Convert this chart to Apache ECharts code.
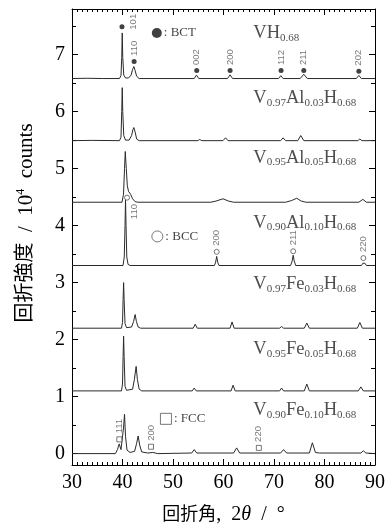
<!DOCTYPE html>
<html><head><meta charset="utf-8">
<script src="https://cdn.jsdelivr.net/npm/echarts@6/dist/echarts.min.js"></script>
<style>html,body{margin:0;padding:0;background:#fff}#c{width:390px;height:530px}</style>
</head><body><div id="c"></div>
<script>
// ---- data (2θ in degrees, intensity in 10^4 counts, stacked as plotted) ----
const vh068 = [[30,6.58],[33,6.585],[36,6.58],[39.4,6.58],[39.7,6.63],[39.85,6.95],[39.95,7.38],[40.05,6.95],[40.25,6.64],[40.6,6.59],[41.2,6.59],[41.7,6.64],[42.0,6.74],[42.25,6.79],[42.5,6.72],[42.8,6.62],[43.3,6.58],[54.2,6.58],[54.65,6.64],[55.1,6.58],[60.8,6.58],[61.3,6.645],[61.8,6.58],[70.9,6.58],[71.35,6.63],[71.8,6.58],[75.2,6.58],[75.9,6.655],[76.6,6.58],[86.3,6.58],[86.8,6.635],[87.3,6.58],[90,6.58]];
const v97al03 = [[30,5.49],[34,5.495],[39.4,5.49],[39.7,5.55],[39.85,6.0],[39.95,6.42],[40.05,6.0],[40.25,5.58],[40.6,5.50],[41.3,5.50],[41.8,5.58],[42.05,5.68],[42.25,5.72],[42.5,5.64],[42.8,5.52],[43.3,5.49],[54.9,5.49],[55.3,5.51],[55.7,5.49],[59.9,5.49],[60.4,5.54],[60.9,5.49],[71.3,5.49],[71.8,5.54],[72.3,5.49],[74.7,5.49],[75.3,5.58],[75.9,5.49],[86.6,5.49],[87.0,5.52],[87.4,5.49],[90,5.49]];
const v95al05 = [[30,4.41],[39.9,4.41],[40.2,4.55],[40.4,5.0],[40.55,5.30],[40.75,5.0],[40.95,4.70],[41.2,4.60],[41.6,4.55],[42.0,4.47],[42.5,4.42],[43,4.41],[57.5,4.41],[58.5,4.43],[59.9,4.47],[61,4.43],[62,4.41],[72.3,4.41],[73.5,4.44],[74.5,4.48],[75.4,4.43],[76.3,4.41],[86.8,4.41],[87.6,4.46],[88.3,4.41],[90,4.41]];
const v90al10 = [[30,3.30],[40.1,3.30],[40.35,3.45],[40.5,4.0],[40.6,4.46],[40.7,4.0],[40.85,3.45],[41.1,3.32],[41.5,3.30],[58.2,3.30],[58.45,3.36],[58.65,3.46],[58.85,3.36],[59.1,3.30],[73.3,3.30],[73.6,3.38],[73.8,3.48],[74.0,3.38],[74.3,3.30],[87.3,3.30],[87.6,3.34],[87.8,3.37],[88.0,3.34],[88.3,3.30],[90,3.30]];
const v97fe03 = [[30,2.20],[39.8,2.20],[40.0,2.30],[40.12,2.70],[40.22,3.00],[40.32,2.70],[40.5,2.28],[40.8,2.21],[41.8,2.22],[42.2,2.32],[42.5,2.44],[42.75,2.32],[43.1,2.22],[43.6,2.20],[54.0,2.20],[54.4,2.27],[54.8,2.20],[61.3,2.20],[61.7,2.31],[62.1,2.20],[71.1,2.20],[71.5,2.23],[71.9,2.20],[76.0,2.20],[76.5,2.29],[77.0,2.20],[86.5,2.20],[87.0,2.30],[87.5,2.20],[90,2.20]];
const v95fe05 = [[30,1.10],[39.8,1.10],[40.0,1.22],[40.12,1.70],[40.22,2.06],[40.32,1.70],[40.5,1.18],[40.8,1.11],[42.0,1.13],[42.35,1.30],[42.7,1.53],[42.95,1.30],[43.3,1.13],[43.8,1.10],[53.8,1.10],[54.2,1.15],[54.6,1.10],[61.5,1.10],[61.9,1.20],[62.3,1.10],[71.1,1.10],[71.5,1.15],[71.9,1.10],[76.0,1.10],[76.5,1.22],[77.0,1.10],[86.7,1.10],[87.2,1.17],[87.7,1.10],[90,1.10]];
const v90fe10 = [[30,0],[38.6,0.0],[39.0,0.07],[39.35,0.17],[39.7,0.07],[39.95,0.1],[40.2,0.45],[40.4,0.69],[40.6,0.3],[40.9,0.06],[41.5,0.02],[42.4,0.04],[42.8,0.18],[43.1,0.31],[43.4,0.15],[43.8,0.03],[45,0.01],[46,0.02],[47,0.0],[53.7,0.01],[54.2,0.07],[54.7,0.01],[62.0,0.01],[62.6,0.10],[63.2,0.01],[71.3,0.01],[71.9,0.07],[72.5,0.01],[77.0,0.01],[77.6,0.19],[78.2,0.02],[79,0.01],[87.2,0.01],[87.7,0.05],[88.2,0.01],[90,0]];

const sampleNames = ['VH0.68','V0.97Al0.03H0.68','V0.95Al0.05H0.68','V0.90Al0.10H0.68','V0.97Fe0.03H0.68','V0.95Fe0.05H0.68','V0.90Fe0.10H0.68'];
const nameX = 65.8;
const nameY = [7.37, 6.23, 5.19, 4.05, 2.97, 1.83, 0.76];

const bctPeaks = [[39.9,7.49],[42.3,6.88],[54.7,6.72],[61.3,6.72],[71.4,6.72],[75.9,6.72],[86.8,6.71]];
const bctHkl = ['101','110','002','200','112','211','202'];
const bccPeaks = [[40.9,4.49],[58.65,3.54],[73.8,3.55],[87.7,3.43]];
const bccHkl = ['110','200','211','220'];
const fccPeaks = [[39.37,0.25],[45.64,0.12],[67.0,0.10]];
const fccHkl = ['111','200','220'];

const phaseNames = ['BCT','BCC','FCC'];
const phaseKeyPos = [[46.8,7.38],[46.9,3.81],[48.6,0.61]];

const xTickLabels = [30,40,50,60,70,80,90];
const yTickLabels = [0,1,2,3,4,5,6,7];

// ---- styling ----
const serif = "'Liberation Serif','Times New Roman','Noto Sans CJK JP',serif";
const sans = "'Liberation Sans','DejaVu Sans',sans-serif";
const labelShift = {'BCT-101':[13.5,5.5], 'BCC-110':[10,24.5]};

function subs(s){ return s.replace(/(\d+\.\d+)/g, '{s|$1}'); }

const traces = [vh068, v97al03, v95al05, v90al10, v97fe03, v95fe05, v90fe10];
const series = traces.map((d,i)=>({
  type:'line', name: sampleNames[i], data:d, symbol:'none', silent:true, z:2,
  lineStyle:{color:'#2a2a2a', width:1}
}));

function peakSeries(points, hkl, phase, symbol, style){
  return {
    type:'scatter', silent:true, z:4, symbol:symbol, symbolSize:5, itemStyle:style,
    data: points.map((p,i)=>{
      const item = {value:p};
      const off = labelShift[phase+'-'+hkl[i]];
      if (off) item.label = {position: off};
      return item;
    }),
    label:{show:true, position:'top', distance:3, rotate:90, align:'left', verticalAlign:'middle',
      formatter: p => hkl[p.dataIndex], fontFamily:sans, fontSize:9.5, color:'#555'}
  };
}
series.push(peakSeries(bctPeaks, bctHkl, 'BCT', 'circle', {color:'#111'}));
series.push(peakSeries(bccPeaks, bccHkl, 'BCC', 'circle', {color:'#fff', borderColor:'#555', borderWidth:1}));
series.push(peakSeries(fccPeaks, fccHkl, 'FCC', 'rect', {color:'#fff', borderColor:'#555', borderWidth:1}));

const keyStyles = [
  {symbol:'circle', symbolSize:10, itemStyle:{color:'#111'}},
  {symbol:'circle', symbolSize:11, itemStyle:{color:'#fff', borderColor:'#555', borderWidth:1}},
  {symbol:'rect', symbolSize:11, itemStyle:{color:'#fff', borderColor:'#555', borderWidth:1}}
];
series.push({
  type:'scatter', silent:true, z:4,
  data: phaseKeyPos.map((p,i)=>Object.assign({value:p}, keyStyles[i])),
  label:{show:true, position:'right', distance:2, formatter: p => ': ' + phaseNames[p.dataIndex],
    fontFamily:serif, fontSize:13, color:'#111'}
});
series.push({
  type:'scatter', silent:true, z:4, symbolSize:1, itemStyle:{color:'rgba(0,0,0,0)'},
  data: nameY.map(y=>[nameX, y]),
  label:{show:true, position:'right', distance:0, align:'left', verticalAlign:'middle',
    formatter: p => subs(sampleNames[p.dataIndex]),
    fontFamily:serif, fontSize:18.5, lineHeight:20, color:'#222',
    rich:{ s:{fontFamily:serif, fontSize:11, lineHeight:11, verticalAlign:'bottom', color:'#222'} }}
});

const axLine = {show:true, onZero:false, lineStyle:{color:'#000', width:1}};
const option = {
  animation:false,
  backgroundColor:'#fff',
  grid:{left:72, right:15, top:9, bottom:64, containLabel:false},
  xAxis:[{
    type:'value', min:30, max:90, interval:10, position:'bottom',
    axisLine:axLine,
    axisTick:{show:true, inside:true, length:6, lineStyle:{color:'#000'}},
    minorTick:{show:true, splitNumber:10, length:3, lineStyle:{color:'#000'}},
    splitLine:{show:false},
    axisLabel:{fontFamily:serif, fontSize:20, color:'#000', margin:8,
      formatter: v => xTickLabels.includes(v) ? String(v) : ''},
    name:'回折角{l|,  2}{i|θ}{l|  /  °}', nameLocation:'middle', nameGap:40,
    nameTextStyle:{fontFamily:serif, fontSize:18, lineHeight:20, color:'#000',
      rich:{l:{fontFamily:serif, fontSize:20, lineHeight:20, color:'#000'},
            i:{fontFamily:serif, fontSize:20, lineHeight:20, fontStyle:'italic', color:'#000'}}}
  },{
    type:'value', min:30, max:90, interval:10, position:'top',
    axisLine:axLine,
    axisTick:{show:true, inside:true, length:6, lineStyle:{color:'#000'}},
    minorTick:{show:true, splitNumber:10, length:3, lineStyle:{color:'#000'}},
    splitLine:{show:false}, axisLabel:{show:false}
  }],
  yAxis:[{
    type:'value', min:-0.2, max:7.8, splitNumber:8, position:'left',
    axisLine:axLine,
    axisTick:{show:true, inside:true, length:6, lineStyle:{color:'#000'}},
    minorTick:{show:true, splitNumber:2, length:4, lineStyle:{color:'#000'}},
    splitLine:{show:false},
    axisLabel:{fontFamily:serif, fontSize:20, color:'#000', margin:7, showMinLabel:false, showMaxLabel:false,
      formatter: v => yTickLabels.includes(v) ? String(v) : ''},
    name:'回折強度{l|  /  10}{sup|4}{l|  counts}', nameLocation:'middle', nameRotate:90, nameGap:35,
    nameTextStyle:{fontFamily:serif, fontSize:20, lineHeight:22, color:'#000', padding:[0,0,0,28],
      rich:{l:{fontFamily:serif, fontSize:21, lineHeight:22, color:'#000'},
            sup:{fontFamily:serif, fontSize:12, lineHeight:12, verticalAlign:'top', color:'#000'}}}
  },{
    type:'value', min:-0.2, max:7.8, splitNumber:8, position:'right',
    axisLine:axLine,
    axisTick:{show:true, inside:true, length:6, lineStyle:{color:'#000'}},
    minorTick:{show:true, splitNumber:2, length:4, lineStyle:{color:'#000'}},
    splitLine:{show:false}, axisLabel:{show:false}
  }],
  series: series
};
const chart = echarts.init(document.getElementById('c'));
chart.setOption(option);
</script></body></html>
